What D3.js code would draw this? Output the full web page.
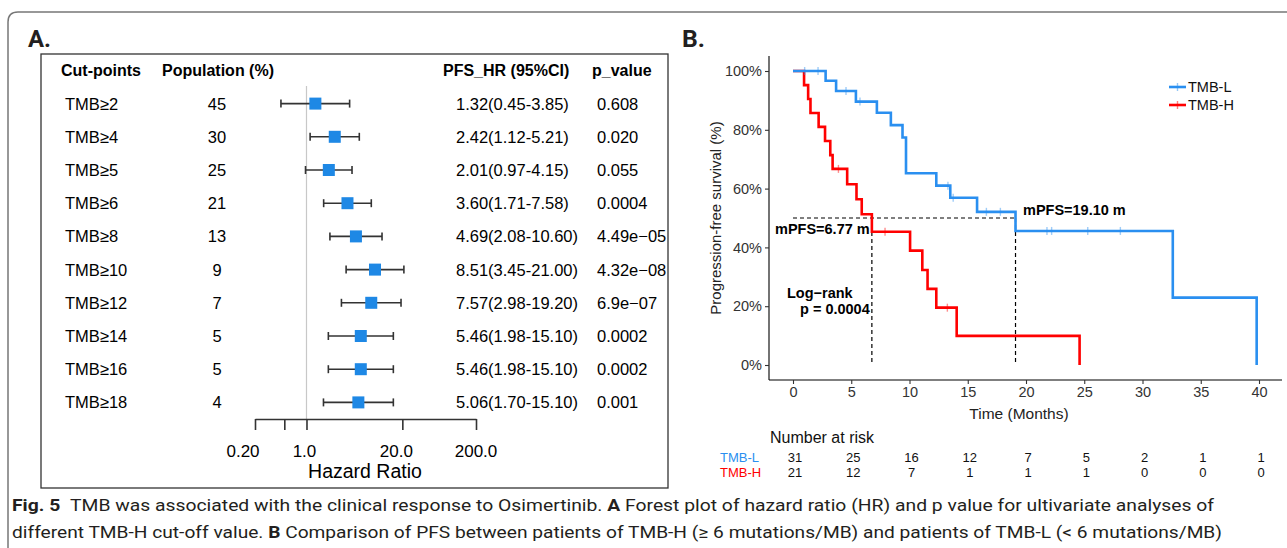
<!DOCTYPE html>
<html><head><meta charset="utf-8">
<script src="https://cdn.jsdelivr.net/npm/d3@7"></script>
<style>
html,body{margin:0;padding:0;background:#fff;}
svg{display:block;font-family:"Liberation Sans",Arial,sans-serif;}
</style></head>
<body>
<svg id="c" width="1287" height="548"></svg>
<script>
// ---------- Panel A data (forest plot) ----------
const cutPoints = ["TMB\u22652","TMB\u22654","TMB\u22655","TMB\u22656","TMB\u22658","TMB\u226510","TMB\u226512","TMB\u226514","TMB\u226516","TMB\u226518"];
const population = [45,30,25,21,13,9,7,5,5,4];
const hr      = [1.32,2.42,2.01,3.60,4.69,8.51,7.57,5.46,5.46,5.06];
const hrLow   = [0.45,1.12,0.97,1.71,2.08,3.45,2.98,1.98,1.98,1.70];
const hrHigh  = [3.85,5.21,4.15,7.58,10.60,21.00,19.20,15.10,15.10,15.10];
const hrText  = ["1.32(0.45-3.85)","2.42(1.12-5.21)","2.01(0.97-4.15)","3.60(1.71-7.58)","4.69(2.08-10.60)","8.51(3.45-21.00)","7.57(2.98-19.20)","5.46(1.98-15.10)","5.46(1.98-15.10)","5.06(1.70-15.10)"];
const pValues = ["0.608","0.020","0.055","0.0004","4.49e\u221205","4.32e\u221208","6.9e\u221207","0.0002","0.0002","0.001"];
const forestTicks = [0.2,0.5,1,20,200];
const forestTickLabels = ["0.20","","1.0","20.0","200.0"];

// ---------- Panel B data (Kaplan-Meier) ----------
const tmbLTimes = [0,2.8,3.7,5.4,7.2,8.4,9.4,9.7,12.3,13.5,15.8,19.1,32.6,39.8];
const tmbLSurv  = [100,96.7,93.2,89.6,85.8,81.6,77.4,65.2,61.0,56.9,52.1,45.6,22.9,0];
const tmbLCensor = [1.0,2.15,4.55,5.75,13.3,13.75,16.6,17.8,21.8,22.2,25.3,28.1];
const tmbHTimes = [0,0.95,1.3,1.5,2.2,2.75,3.2,3.4,4.65,5.45,5.9,6.77,10.05,11.1,11.55,12.3,14.05,24.6];
const tmbHSurv  = [100,95.2,90.5,85.7,81.0,76.2,71.4,66.7,61.5,56.4,51.3,45.3,38.9,32.3,25.9,19.5,9.9,0];
const tmbHCensor = [3.9,7.9,13.25];
const medianL = 19.10, medianH = 6.77;
const timeTicks = [0,5,10,15,20,25,30,35,40];
const survTicks = [0,20,40,60,80,100];
const riskL = [31,25,16,12,7,5,2,1,1];
const riskH = [21,12,7,1,1,1,0,0,0];

const BLUE = "#2a8ff0", RED = "#ff0000", SQ = "#1e88e5";
const svg = d3.select("#c");

// outer card frame
svg.append("path")
  .attr("d","M8,548 L8,22 Q8,12 18,12 L1287,12")
  .attr("fill","none").attr("stroke","#777").attr("stroke-width",1.5);

// panel letters
svg.append("text").attr("x",28).attr("y",47).text("A.")
  .attr("font-family","Roboto,sans-serif").attr("font-weight","bold").attr("font-size",24)
  .attr("textLength",23).attr("lengthAdjust","spacingAndGlyphs").attr("fill","#231f20");
svg.append("text").attr("x",682).attr("y",47).text("B.")
  .attr("font-family","Roboto,sans-serif").attr("font-weight","bold").attr("font-size",24)
  .attr("textLength",23).attr("lengthAdjust","spacingAndGlyphs").attr("fill","#231f20");

// ===== Panel A =====
const gA = svg.append("g");
gA.append("rect").attr("x",41).attr("y",54).attr("width",627).attr("height",434)
  .attr("fill","none").attr("stroke","#333").attr("stroke-width",1.3);

const headers = [["Cut-points",61],["Population (%)",162],["PFS_HR (95%CI)",443],["p_value",592]];
gA.selectAll("text.hd").data(headers).join("text").attr("class","hd")
  .attr("x",d=>d[1]).attr("y",76).text(d=>d[0])
  .attr("font-weight","bold").attr("font-size",16).attr("fill","#000");

const xF = d3.scaleLog().domain([0.2,200]).range([255,476]);
const yF = d3.scaleBand().domain(cutPoints).range([87,419]);
const rowY = d => yF(d) + yF.bandwidth()/2;

// reference line at HR = 1
gA.append("line").attr("x1",xF(1)).attr("x2",xF(1)).attr("y1",86).attr("y2",419)
  .attr("stroke","#c8c8c8").attr("stroke-width",1.2);

const rows = cutPoints.map((c,i)=>({c,pop:population[i],hr:hr[i],lo:hrLow[i],hi:hrHigh[i],t:hrText[i],p:pValues[i]}));
const rg = gA.selectAll("g.row").data(rows).join("g").attr("class","row");
rg.append("text").attr("x",65).attr("y",d=>rowY(d.c)+6).text(d=>d.c).attr("font-size",16.5);
rg.append("text").attr("x",217).attr("y",d=>rowY(d.c)+6).text(d=>d.pop).attr("font-size",16.5).attr("text-anchor","middle");
rg.append("text").attr("x",456).attr("y",d=>rowY(d.c)+6).text(d=>d.t).attr("font-size",16.5);
rg.append("text").attr("x",597).attr("y",d=>rowY(d.c)+6).text(d=>d.p).attr("font-size",16.5);
rg.append("line").attr("x1",d=>xF(d.lo)).attr("x2",d=>xF(d.hi)).attr("y1",d=>rowY(d.c)).attr("y2",d=>rowY(d.c))
  .attr("stroke","#333").attr("stroke-width",1.6);
rg.append("line").attr("x1",d=>xF(d.lo)).attr("x2",d=>xF(d.lo)).attr("y1",d=>rowY(d.c)-4).attr("y2",d=>rowY(d.c)+4)
  .attr("stroke","#333").attr("stroke-width",1.6);
rg.append("line").attr("x1",d=>xF(d.hi)).attr("x2",d=>xF(d.hi)).attr("y1",d=>rowY(d.c)-4).attr("y2",d=>rowY(d.c)+4)
  .attr("stroke","#333").attr("stroke-width",1.6);
rg.append("rect").attr("x",d=>xF(d.hr)-6).attr("y",d=>rowY(d.c)-6).attr("width",12).attr("height",12)
  .attr("fill",SQ);

// forest x axis
const axF = gA.append("g").attr("transform","translate(0,419)")
  .call(d3.axisBottom(xF).tickValues(forestTicks).tickFormat("").tickSize(11).tickSizeOuter(0));
axF.select(".domain").attr("stroke","#333").attr("stroke-width",1.6);
axF.selectAll(".tick line").attr("stroke","#333").attr("stroke-width",1.6);
const labShift = {"0.20":-12,"1.0":-2,"20.0":-6,"200.0":0};
gA.selectAll("text.fl").data(forestTicks.map((v,i)=>({v,l:forestTickLabels[i]})).filter(d=>d.l)).join("text")
  .attr("class","fl").attr("x",d=>xF(d.v)+labShift[d.l]).attr("y",457).attr("text-anchor","middle")
  .attr("font-size",17).text(d=>d.l);
gA.append("text").attr("x",365).attr("y",478).attr("text-anchor","middle").attr("font-size",19.5).text("Hazard Ratio");

// ===== Panel B =====
const gB = svg.append("g");
const xK = d3.scaleLinear().domain([0,40]).range([793,1259]);
const yK = d3.scaleLinear().domain([0,100]).range([365,71]);

// axis lines
gB.append("line").attr("x1",769).attr("x2",769).attr("y1",56).attr("y2",380).attr("stroke","#000").attr("stroke-width",1.1);
gB.append("line").attr("x1",769).attr("x2",1282).attr("y1",380).attr("y2",380).attr("stroke","#000").attr("stroke-width",1.1);

const ayK = gB.append("g").attr("transform","translate(769,0)")
  .call(d3.axisLeft(yK).tickValues(survTicks).tickFormat(d=>d+"%").tickSize(4).tickPadding(3));
ayK.select(".domain").remove();
ayK.selectAll(".tick line").attr("stroke","#333").attr("stroke-width",1.1);
ayK.selectAll(".tick text").attr("font-size",14.5).attr("fill","#333").attr("font-family","Liberation Sans,Arial,sans-serif");

const axK = gB.append("g").attr("transform","translate(0,380)")
  .call(d3.axisBottom(xK).tickValues(timeTicks).tickSize(4).tickPadding(3));
axK.select(".domain").remove();
axK.selectAll(".tick line").attr("stroke","#333").attr("stroke-width",1.1);
axK.selectAll(".tick text").attr("font-size",14.5).attr("fill","#333").attr("font-family","Liberation Sans,Arial,sans-serif");

gB.append("text").attr("transform","translate(721,218) rotate(-90)").attr("text-anchor","middle")
  .attr("font-size",15).attr("fill","#222").text("Progression-free survival (%)");
gB.append("text").attr("x",1019).attr("y",419).attr("text-anchor","middle")
  .attr("font-size",15.5).attr("fill","#222").text("Time (Months)");

// median dashed lines
const dash = "4,3";
gB.append("line").attr("x1",xK(0)).attr("x2",xK(medianL)).attr("y1",yK(50)).attr("y2",yK(50))
  .attr("stroke","#000").attr("stroke-width",1.2).attr("stroke-dasharray",dash);
[medianH, medianL].forEach(m=>{
  gB.append("line").attr("x1",xK(m)).attr("x2",xK(m)).attr("y1",yK(50)).attr("y2",yK(0))
    .attr("stroke","#000").attr("stroke-width",1.2).attr("stroke-dasharray",dash);
});

// KM curves
const stepLine = d3.line().x(d=>xK(d[0])).y(d=>yK(d[1])).curve(d3.curveStepAfter);
function survAt(times, surv, t){ let s = surv[0]; for(let i=0;i<times.length;i++){ if(times[i]<=t) s=surv[i]; } return s; }
function drawKM(times, surv, censor, color){
  gB.append("path").datum(times.map((t,i)=>[t,surv[i]])).attr("d",stepLine)
    .attr("fill","none").attr("stroke",color).attr("stroke-width",2.6).attr("stroke-linejoin","miter");
  gB.selectAll(null).data(censor).join("line")
    .attr("x1",d=>xK(d)).attr("x2",d=>xK(d))
    .attr("y1",d=>yK(survAt(times,surv,d))-4).attr("y2",d=>yK(survAt(times,surv,d))+4)
    .attr("stroke",color).attr("stroke-opacity",0.45).attr("stroke-width",1.4);
}
drawKM(tmbHTimes, tmbHSurv, tmbHCensor, RED);
drawKM(tmbLTimes, tmbLSurv, tmbLCensor, BLUE);

// annotations
gB.append("text").attr("x",775).attr("y",234).attr("font-weight","bold").attr("font-size",14.5).text("mPFS=6.77 m");
gB.append("text").attr("x",1023).attr("y",215).attr("font-weight","bold").attr("font-size",14.5).text("mPFS=19.10 m");
gB.append("text").attr("x",787).attr("y",298).attr("font-weight","bold").attr("font-size",14.5).text("Log\u2212rank");
gB.append("text").attr("x",800).attr("y",314).attr("font-weight","bold").attr("font-size",14.5).text("p = 0.0004");

// legend
const legend = [["TMB-L",BLUE,87],["TMB-H",RED,105]];
legend.forEach(([name,col,y])=>{
  gB.append("line").attr("x1",1169).attr("x2",1186).attr("y1",y).attr("y2",y).attr("stroke",col).attr("stroke-width",2.6);
  gB.append("line").attr("x1",1177.5).attr("x2",1177.5).attr("y1",y-4).attr("y2",y+4).attr("stroke",col).attr("stroke-opacity",0.5).attr("stroke-width",1.4);
  gB.append("text").attr("x",1188).attr("y",y+5).attr("font-size",14.5).attr("fill","#111").text(name);
});

// number at risk table
gB.append("text").attr("x",770).attr("y",443).attr("font-size",16).attr("fill","#111").text("Number at risk");
const riskRows = [["TMB-L",riskL,BLUE,462],["TMB-H",riskH,RED,477]];
riskRows.forEach(([name,vals,col,y])=>{
  gB.append("text").attr("x",720).attr("y",y).attr("font-size",13).attr("fill",col).text(name);
  gB.selectAll(null).data(vals).join("text").attr("x",(d,i)=>xK(timeTicks[i])+2).attr("y",y)
    .attr("text-anchor","middle").attr("font-size",13).attr("fill","#111").text(d=>d);
});

// caption
const cap = svg.append("g").attr("font-family","Roboto,'Open Sans',sans-serif").attr("fill","#231f20").attr("font-size",17);
const l1 = cap.append("text").attr("x",12).attr("y",511).attr("textLength",1202).attr("lengthAdjust","spacingAndGlyphs");
l1.append("tspan").attr("font-weight","bold").text("Fig. 5");
l1.append("tspan").text("\u2002TMB was associated with the clinical response to Osimertinib. ");
l1.append("tspan").attr("font-weight","bold").text("A");
l1.append("tspan").text(" Forest plot of hazard ratio (HR) and p value for ultivariate analyses of");
const l2 = cap.append("text").attr("x",12).attr("y",538).attr("textLength",1210).attr("lengthAdjust","spacingAndGlyphs");
l2.append("tspan").text("different TMB-H cut-off value. ");
l2.append("tspan").attr("font-weight","bold").text("B");
l2.append("tspan").text(" Comparison of PFS between patients of TMB-H (\u2265 6 mutations/MB) and patients of TMB-L (< 6 mutations/MB)");
</script>
</body></html>
